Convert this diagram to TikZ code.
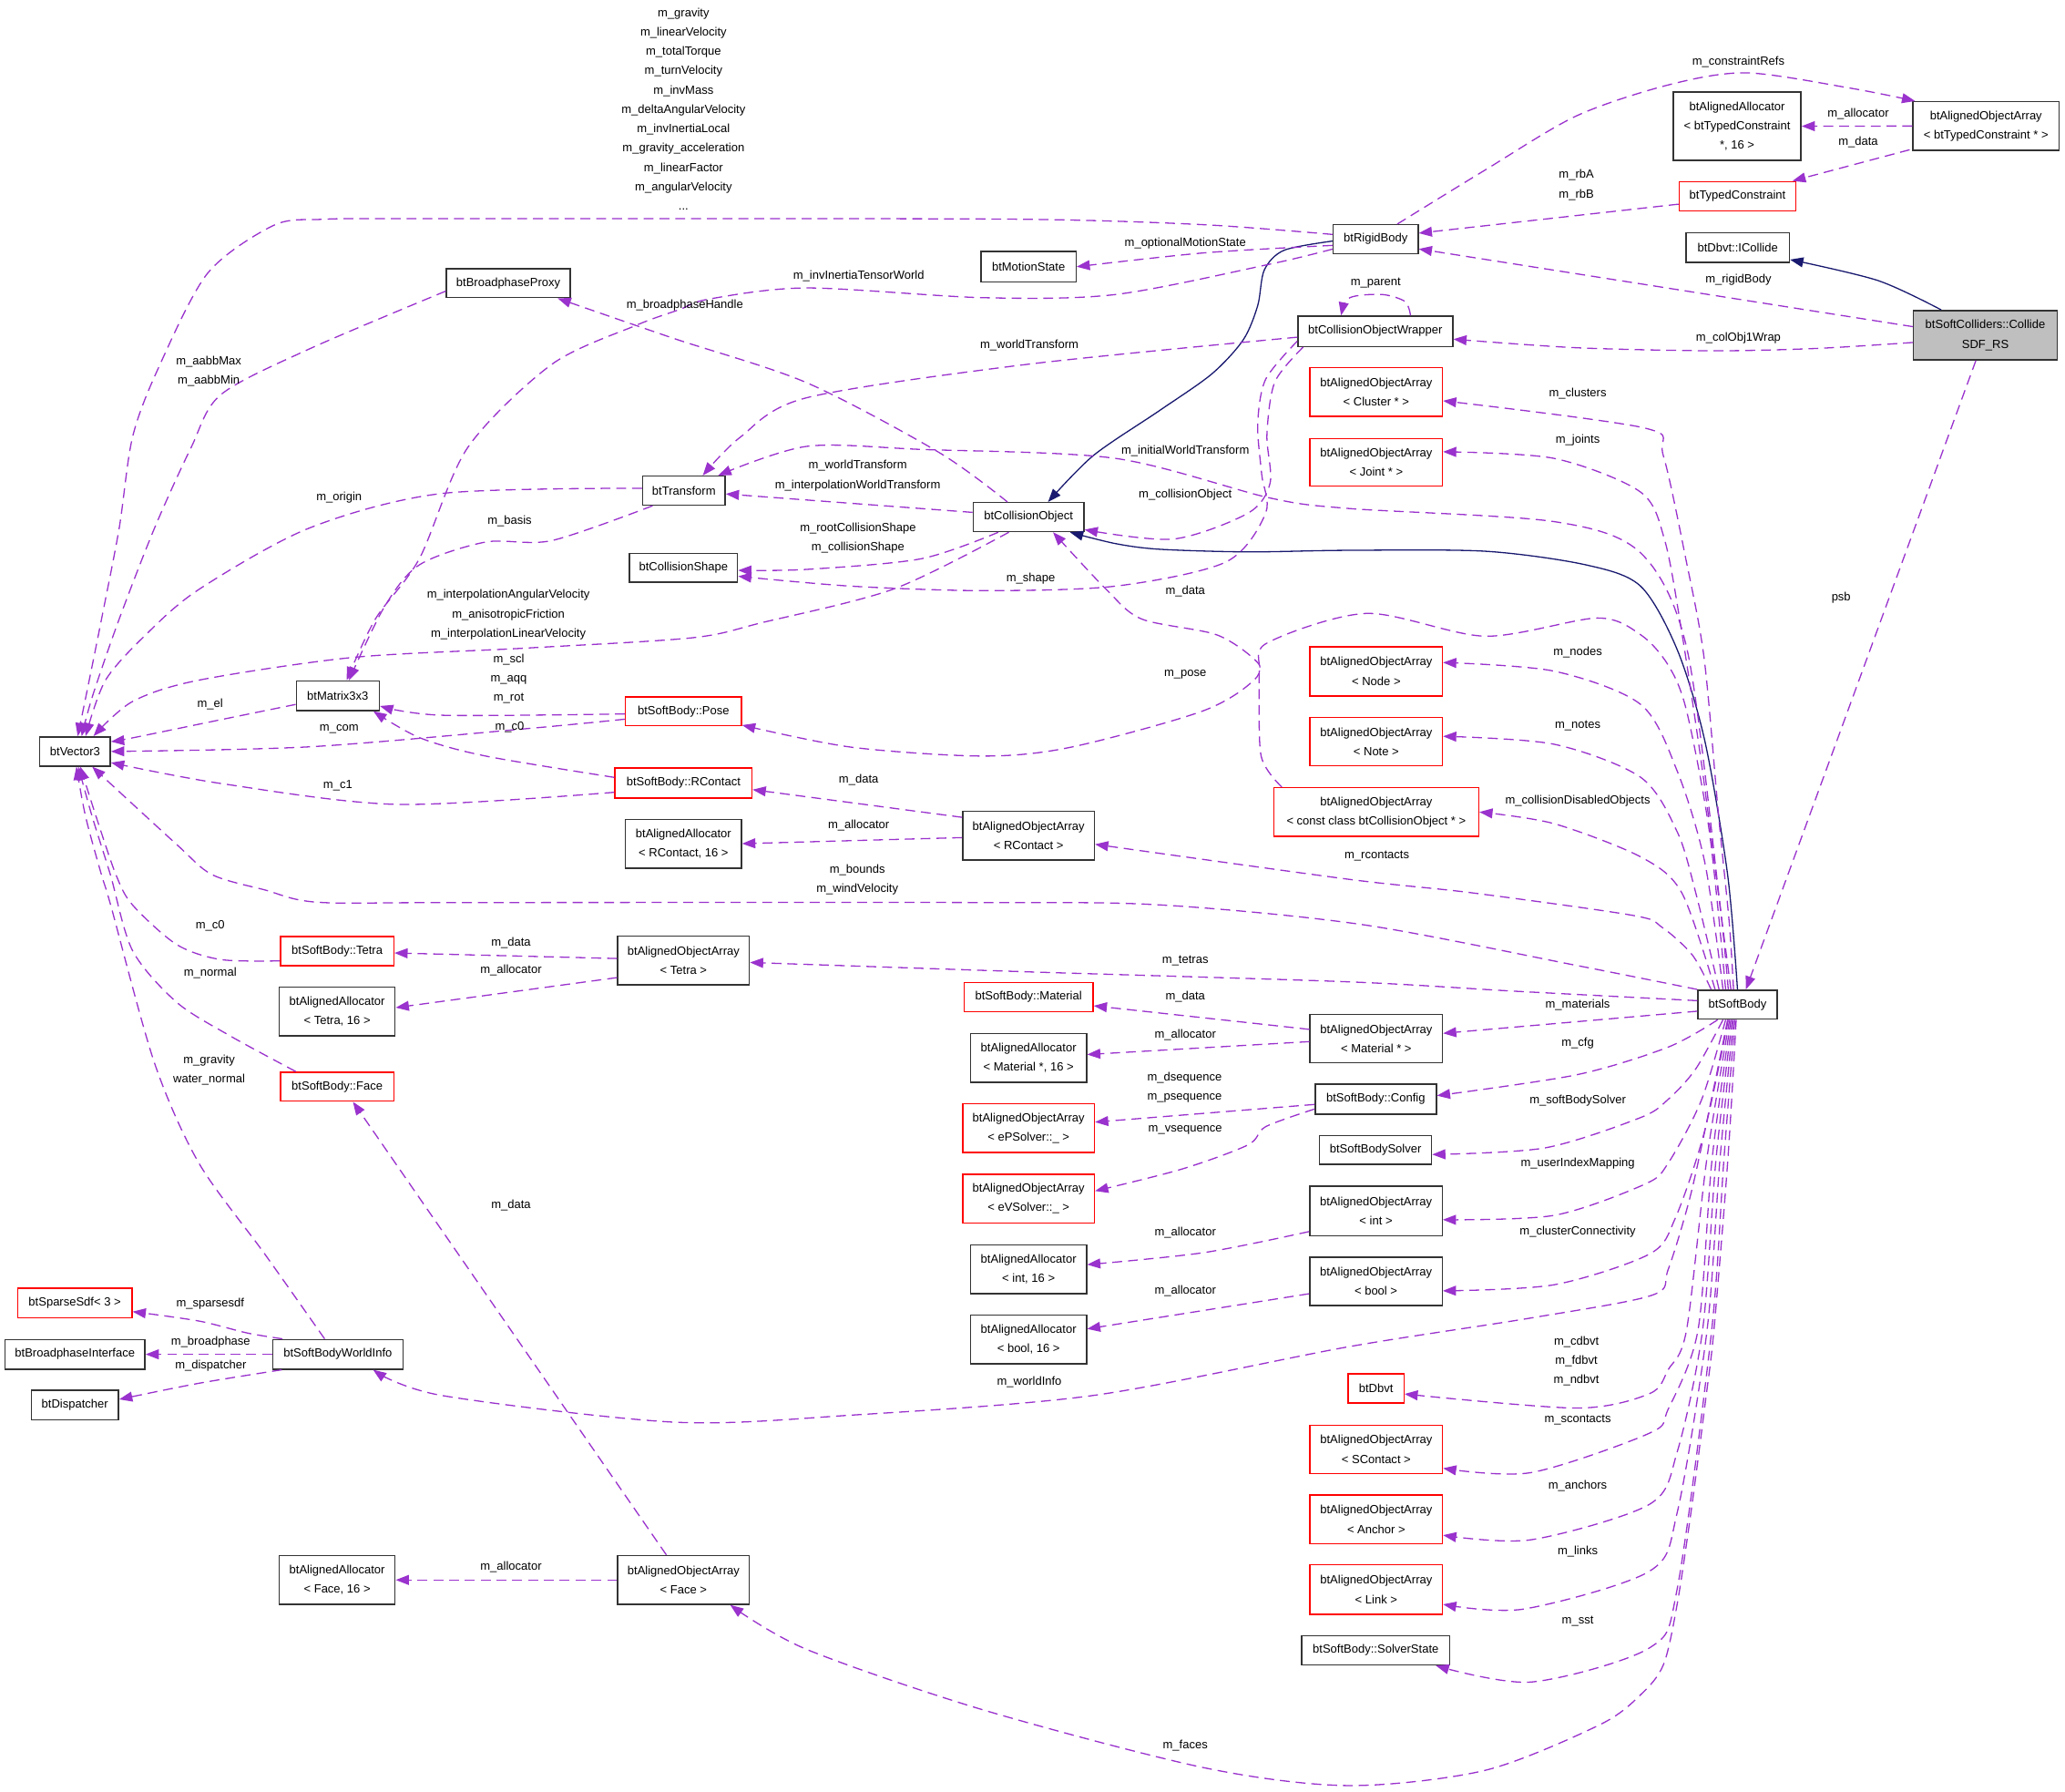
\documentclass[tikz,border=0pt]{standalone}
\usepackage{fontspec}
\setmainfont{Liberation Sans}
\usetikzlibrary{arrows.meta,calc}
\definecolor{depc}{HTML}{9A32CD}
\definecolor{inhc}{HTML}{191970}
\definecolor{rootfill}{HTML}{BFBFBF}
\definecolor{undoc}{HTML}{FF0000}
\definecolor{boxc}{HTML}{333333}
\newcommand{\dgfont}{\fontsize{9}{14.7}\selectfont}
\newcommand{\bx}[6]{\node[#1,minimum width=#4pt,minimum height=#5pt] (#2) at (#3) {#6};}
\begin{document}
\begin{tikzpicture}[x=1pt,y=-1pt,
  box/.style={draw=boxc, line width=1pt, fill=white, inner sep=0pt, align=center, font=\dgfont, text=black},
  rbox/.style={box, draw=undoc},
  gbox/.style={box, fill=rootfill},
  lbl/.style={inner sep=0pt, align=center, font=\dgfont, text=black},
  dep/.style={draw=depc, line width=0.9pt, dash pattern=on 7.5pt off 4.5pt, -{Triangle[length=10pt,width=7.5pt]}},
  inh/.style={draw=inhc, line width=0.9pt, -{Triangle[length=10pt,width=7.5pt]}}]
\fill[white] (0,0) rectangle (1568,1360);
\useasboundingbox (0,0) rectangle (1568,1360);

% ---------- nodes ----------
\bx{gbox}{col}{1507.5,254.5}{109}{37.5}{btSoftColliders::Collide\\SDF\_RS}
\bx{box}{icol}{1319.5,188}{78.5}{22.2}{btDbvt::ICollide}
\bx{box}{aoatc}{1508,95.7}{111}{37}{btAlignedObjectArray\\< btTypedConstraint * >}
\bx{box}{aatc}{1319,95.8}{97}{52}{btAlignedAllocator\\< btTypedConstraint\\*, 16 >}
\bx{rbox}{tc}{1319.3,149}{88.5}{22.3}{btTypedConstraint}
\bx{box}{rb}{1044.6,181.6}{64.4}{22}{btRigidBody}
\bx{box}{ms}{781,202.5}{72}{23}{btMotionState}
\bx{box}{bpp}{386,215}{94}{22}{btBroadphaseProxy}
\bx{box}{cow}{1044.3,251.5}{117.5}{23}{btCollisionObjectWrapper}
\bx{rbox}{aoacl}{1045,297.5}{100.5}{37}{btAlignedObjectArray\\< Cluster * >}
\bx{rbox}{aoaj}{1045,351}{100.5}{36}{btAlignedObjectArray\\< Joint * >}
\bx{box}{tr}{519.3,372.5}{62.6}{22}{btTransform}
\bx{box}{co}{781,392.6}{84}{22}{btCollisionObject}
\bx{box}{cs}{519,431}{82}{22}{btCollisionShape}
\bx{box}{m33}{256.5,528.2}{63}{22.5}{btMatrix3x3}
\bx{box}{v3}{57,570.5}{53.6}{22.2}{btVector3}
\bx{rbox}{pose}{519,540}{88}{22}{btSoftBody::Pose}
\bx{rbox}{rc}{519,594.5}{104}{23}{btSoftBody::RContact}
\bx{box}{aarc}{519,640.5}{88}{37}{btAlignedAllocator\\< RContact, 16 >}
\bx{box}{aoarc}{781,634.5}{100}{37}{btAlignedObjectArray\\< RContact >}
\bx{rbox}{aoan}{1045,509.7}{100.5}{37.4}{btAlignedObjectArray\\< Node >}
\bx{rbox}{aoanote}{1045,563}{100.5}{37}{btAlignedObjectArray\\< Note >}
\bx{rbox}{aoaco}{1045,616.5}{155.6}{37}{btAlignedObjectArray\\< const class btCollisionObject * >}
\bx{rbox}{tet}{256,722}{86}{22}{btSoftBody::Tetra}
\bx{box}{aatet}{256,768}{88}{37}{btAlignedAllocator\\< Tetra, 16 >}
\bx{box}{aoatet}{519,729.3}{100}{37}{btAlignedObjectArray\\< Tetra >}
\bx{rbox}{face}{256,825}{86}{22}{btSoftBody::Face}
\bx{rbox}{mat}{781,757}{98}{22.4}{btSoftBody::Material}
\bx{box}{aamat}{781,803.1}{88}{37}{btAlignedAllocator\\< Material *, 16 >}
\bx{box}{aoamat}{1045,788.5}{100.5}{37}{btAlignedObjectArray\\< Material * >}
\bx{box}{cfg}{1044.6,834.5}{92}{23}{btSoftBody::Config}
\bx{box}{sbs}{1044.5,873}{85}{22}{btSoftBodySolver}
\bx{rbox}{aoaps}{781,856.5}{100}{37}{btAlignedObjectArray\\< ePSolver::\_ >}
\bx{rbox}{aoavs}{781,910}{100}{36.9}{btAlignedObjectArray\\< eVSolver::\_ >}
\bx{box}{aoaint}{1044.8,919.3}{100.5}{37.5}{btAlignedObjectArray\\< int >}
\bx{box}{aaint}{781,963.6}{88}{37.2}{btAlignedAllocator\\< int, 16 >}
\bx{box}{aoabool}{1044.8,972.8}{100.5}{36.5}{btAlignedObjectArray\\< bool >}
\bx{box}{aabool}{781,1016.9}{88}{37.1}{btAlignedAllocator\\< bool, 16 >}
\bx{box}{sb}{1319.3,762.7}{60}{22}{btSoftBody}
\bx{rbox}{dbvt}{1044.8,1054}{42.4}{22}{btDbvt}
\bx{rbox}{aoasc}{1045,1100.3}{100.5}{36.6}{btAlignedObjectArray\\< SContact >}
\bx{rbox}{aoaanc}{1045,1153.5}{100.5}{37}{btAlignedObjectArray\\< Anchor >}
\bx{rbox}{aoalink}{1045,1206.8}{100.5}{37.6}{btAlignedObjectArray\\< Link >}
\bx{box}{sst}{1044.6,1253}{112.3}{22}{btSoftBody::SolverState}
\bx{rbox}{sdf}{56.8,989.3}{86.8}{22.6}{btSparseSdf< 3 >}
\bx{box}{bpi}{56.9,1028.2}{106.3}{22.5}{btBroadphaseInterface}
\bx{box}{wi}{256.5,1028.2}{99}{22.5}{btSoftBodyWorldInfo}
\bx{box}{disp}{56.9,1066.8}{66.2}{22.4}{btDispatcher}
\bx{box}{aaface}{256,1199.5}{88}{37}{btAlignedAllocator\\< Face, 16 >}
\bx{box}{aoaface}{519,1199.5}{100}{37}{btAlignedObjectArray\\< Face >}

% ---------- inheritance ----------
\draw[inh] plot[smooth] coordinates {($(col.north)+(-33.5,0)$) (1426,213) ($(icol.south east)+(0,-2.5)$)};
\draw[inh] plot[smooth] coordinates {($(rb.west)+(0,1.4)$) (975,190) (960,205) (955,232) (944,258) (920,284) (880,312) (830,346) ($(co.north)+(14.8,0)$)};
\draw[inh] plot[smooth] coordinates {(sb.north) (1311.8,664) (1294.5,562.5) (1273.6,493.4) (1245.7,445) (1204,428.8) (1127.8,418.5) (1023.7,417.8) (947.6,419) (880.6,417) (847,412.7) ($(co.south east)+(-11,0)$)};

% ---------- usage edges ----------
\draw[dep] ($(col.west)+(0,-6.5)$) -- ($(rb.east)+(0,7.4)$);
\draw[dep] plot[smooth] coordinates {($(col.west)+(0,5.5)$) (1380,264.5) (1301,266.3) (1197,264) ($(cow.east)+(0,6)$)};
\draw[dep] ($(col.south)+(-7.2,0)$) -- ($(sb.north)+(6.4,0)$);
\draw[dep] plot[smooth] coordinates {($(rb.north)+(16.4,0)$) (1127.8,129) (1197,88) (1266.7,64.5) (1326,55.3) (1405.5,67) ($(aoatc.north west)+(2.2,0)$)};
\draw[dep] (aoatc.west) -- (aatc.east);
\draw[dep] ($(aoatc.south west)+(-2,-1)$) -- ($(tc.north east)+(-3,0)$);
\draw[dep] ($(tc.west)+(0,6)$) -- ($(rb.east)+(0,-4.6)$);
\draw[dep] plot[smooth] coordinates {($(rb.west)+(0,-3.6)$) (914,170.6) (780,166.5) (525,166) (300,166) (245,166.5) (208,171) (157.6,207.5) (120,280) (100.6,332) (90.5,401) (77.1,470) (65.4,528) ($(v3.north)+(2,0)$)};
\draw[dep] plot[smooth] coordinates {($(rb.west)+(0,4.7)$) (914,192) (ms.east)};
\draw[dep] plot[smooth] coordinates {($(rb.west)+(0,7.5)$) (964,200.6) (847,223.6) (746.5,226) (612.4,218.6) (538.6,227) (516,235) (483,247) (419,276.6) (355,340) (318.5,424) (285,470) ($(m33.north)+(6.7,0)$)};
\draw[dep] plot[smooth] coordinates {($(co.north)+(-16,0)$) (713,343.5) (612.4,290.5) (511.8,257) ($(bpp.south east)+(-10,0)$)};
\draw[dep] plot[smooth] coordinates {($(cow.north)+(26.7,0)$) (1067,229) (1049.6,223.6) (1025,226) ($(cow.north)+(-26,0)$)};
\draw[dep] plot[smooth] coordinates {($(cow.west)+(0,4.5)$) (780,276.6) (612.4,302) (562,332) ($(tr.north)+(14.3,0)$)};
\draw[dep] plot[smooth] coordinates {($(sb.north)+(-7,0)$) (1305,678) (1281,493) (1246,420) (1180,396) (1023.6,386) (964,378) (847,348) (699.5,341.2) (612.4,338.9) ($(tr.north)+(26,0)$)};
\draw[dep] ($(co.west)+(0,-3.6)$) -- ($(tr.east)+(0,2.5)$);
\draw[dep] plot[smooth] coordinates {($(co.south)+(-23,0)$) (699.5,424.2) (612.4,432.3) ($(cs.east)+(0,2)$)};
\draw[dep] plot[smooth] coordinates {($(cow.west)+(0,7.5)$) (961,288) (955,322) (958,360) (961,389.6) (931,426.6) (847,445) (746,448.4) (646,445) ($(cs.east)+(0,6.5)$)};
\draw[dep] plot[smooth] coordinates {($(cow.south west)+(4.5,0)$) (968,290) (962,330) (964.4,366.7) (947.6,389.6) (890.6,409.3) ($(co.south east)+(0,-2)$)};
\draw[dep] plot[smooth] coordinates {($(co.south)+(-15,0)$) (679,447) (579,472.6) (525.6,484.2) (400,492) (268.2,499.1) (150.9,516.4) (100.6,532.6) ($(v3.north)+(14,0)$)};
\draw[dep] plot[smooth] coordinates {($(tr.west)+(0,-1.8)$) (335,374.7) (234.6,401) (151,447.5) (110.6,482) (80,516.6) ($(v3.north)+(8,0)$)};
\draw[dep] plot[smooth] coordinates {($(tr.south west)+(8,0)$) (419,410.4) (368.8,411.5) (318.5,428.8) (291.7,461) ($(m33.north)+(8.5,0)$)};
\draw[dep] plot[smooth] coordinates {($(bpp.west)+(0,6)$) (234.7,265) (167.6,299.7) (145,340) (117.3,401) (90.5,470) (70.4,528) ($(v3.north)+(5,0)$)};
\draw[dep] plot[smooth] coordinates {($(m33.west)+(0,6.6)$) (167.6,546.4) (100.6,560.2) ($(v3.east)+(0,-7.5)$)};
\draw[dep] plot[smooth] coordinates {($(pose.west)+(0,2)$) (335.4,543) ($(m33.east)+(0,7.8)$)};
\draw[dep] plot[smooth] coordinates {($(pose.west)+(0,6)$) (402,553) (234.6,567) (v3.east)};
\draw[dep] plot[smooth] coordinates {($(rc.west)+(0,-4.3)$) (368.8,574) (318.5,560) ($(m33.south east)+(-5,0)$)};
\draw[dep] plot[smooth] coordinates {($(rc.west)+(0,7)$) (301.7,610.7) (167.6,594.8) ($(v3.east)+(0,8.5)$)};
\draw[dep] ($(aoarc.west)+(0,-14)$) -- ($(rc.east)+(0,5)$);
\draw[dep] ($(aoarc.west)+(0,1.4)$) -- (aarc.east);
\draw[dep] plot[smooth] coordinates {($(sb.north)+(-20,0)$) (1285,725) (1262,704) (1240,695) (1117.4,677.8) (1023.7,667.5) ($(aoarc.east)+(0,6.5)$)};
\draw[dep] plot[smooth] coordinates {(sb.north west) (1197.3,733) (1034.7,702) (880.7,687) (740,685.2) (350,685.2) (241.5,685) (201,675.6) (161,664) (134,641) ($(v3.south)+(13,0)$)};
\draw[dep] ($(aoatet.west)+(0,-1.6)$) -- ($(tet.east)+(0,1.5)$);
\draw[dep] ($(aoatet.west)+(0,12.9)$) -- ($(aatet.east)+(0,-3)$);
\draw[dep] plot[smooth] coordinates {($(sb.west)+(0,-3)$) (1150,752.5) (1023.7,745.4) (780,737.8) ($(aoatet.east)+(0,1.4)$)};
\draw[dep] plot[smooth] coordinates {($(tet.west)+(0,7.5)$) (167.6,728.5) (134,717) (100.6,687) (88,664) (73,620) ($(v3.south)+(4,0)$)};
\draw[dep] plot[smooth] coordinates {($(face.north)+(-31.4,0)$) (174.3,786.2) (134,760.8) (100.6,721.6) (83.8,664) (70,620) ($(v3.south)+(2.5,0)$)};
\draw[dep] plot[smooth] coordinates {($(wi.north)+(-10,0)$) (201,952) (151,883) (117.3,807) (84,687) (77,664) (65,620) ($(v3.south)+(1,0)$)};
\draw[dep] ($(aoaface.north)+(-13,0)$) -- ($(face.south)+(12,0)$);
\draw[dep] (aoaface.west) -- (aaface.east);
\draw[dep] plot[smooth] coordinates {($(sb.south)+(-1,0)$) (1312,880) (1301.4,1009.8) (1294.5,1067.5) (1284,1148) (1273.6,1217.3) (1263.2,1263.5) (1245.9,1286.5) (1214.6,1309.5) (1127.8,1344) (1023.7,1355.6) (914,1342) (746,1298) (612,1252) ($(aoaface.south east)+(-15,0)$)};
\draw[dep] plot[smooth] coordinates {($(sb.south)+(-7.5,0)$) (1301.4,825.4) (1284,906) (1266.7,963.7) (1254.5,983.3) (1162.5,1000.6) (1023.7,1022.5) (830.3,1059.4) (646,1074.4) (511.8,1079.7) (335.2,1059.4) ($(wi.south)+(26.8,0)$)};
\draw[dep] plot[smooth] coordinates {($(wi.north)+(-42,0)$) (187.7,1012) (150.9,1002.9) ($(sdf.east)+(0,6.5)$)};
\draw[dep] (wi.west) -- (bpi.east);
\draw[dep] plot[smooth] coordinates {($(wi.south west)+(7.5,0)$) (150.9,1050.2) ($(disp.east)+(0,-4.4)$)};
\draw[dep] ($(aoamat.west)+(0,-7)$) -- ($(mat.east)+(0,6.6)$);
\draw[dep] ($(aoamat.west)+(0,2.3)$) -- ($(aamat.east)+(0,-2.5)$);
\draw[dep] ($(sb.west)+(0,5)$) -- ($(aoamat.east)+(0,-4)$);
\draw[dep] ($(cfg.west)+(0,4)$) -- ($(aoaps.east)+(0,-4.6)$);
\draw[dep] plot[smooth] coordinates {($(cfg.west)+(0,7.5)$) (961,855.4) (947.6,869.2) (897.3,887.6) ($(aoavs.east)+(0,-5.8)$)};
\draw[dep] plot[smooth] coordinates {($(sb.south)+(-15,0)$) (1266.6,795) (1197,816) ($(cfg.east)+(0,-2.7)$)};
\draw[dep] plot[smooth] coordinates {($(sb.south)+(-11,0)$) (1287.6,811.5) (1266.7,834.6) (1245.6,848.5) (1173,871.5) ($(sbs.east)+(0,3.5)$)};
\draw[dep] plot[smooth] coordinates {($(sb.south)+(-9,0)$) (1292,835) (1266.7,883) (1249,899) (1180,922.7) ($(aoaint.east)+(0,6.7)$)};
\draw[dep] plot[smooth] coordinates {($(sb.south)+(-7,0)$) (1294,860) (1272,925) (1252.6,952) (1180,975.4) ($(aoabool.east)+(0,7.2)$)};
\draw[dep] plot[smooth] coordinates {($(aoaint.west)+(0,15.7)$) (914,951) ($(aaint.east)+(0,-3.5)$)};
\draw[dep] ($(aoabool.west)+(0,9.4)$) -- ($(aabool.east)+(0,-8)$);
\draw[dep] plot[smooth] coordinates {($(sb.south)+(-6,0)$) (1296,880) (1280.6,1009.8) (1266.7,1039.8) (1252.6,1058) (1197,1069) ($(dbvt.east)+(0,4.3)$)};
\draw[dep] plot[smooth] coordinates {($(sb.south)+(-5,0)$) (1300,880) (1289.3,1009.8) (1266.7,1069.8) (1252.6,1088) (1162.5,1118) ($(aoasc.east)+(0,14.4)$)};
\draw[dep] plot[smooth] coordinates {($(sb.south)+(-4,0)$) (1303,880) (1292.8,1009.8) (1273.6,1102) (1252.6,1142) (1162.5,1169) ($(aoaanc.east)+(0,12)$)};
\draw[dep] plot[smooth] coordinates {($(sb.south)+(-3,0)$) (1306,880) (1296.2,1009.8) (1273.6,1148) (1252.6,1192.8) (1157,1221.6) ($(aoalink.east)+(0,11.2)$)};
\draw[dep] plot[smooth] coordinates {($(sb.south)+(-2,0)$) (1309,880) (1299.7,1009.8) (1273.6,1205.8) (1252.6,1251) (1162.5,1277) ($(sst.south east)+(-11,0)$)};
\draw[dep] plot[smooth] coordinates {($(sb.north)+(-3,0)$) (1313,700) (1305,620) (1294,500) (1280,424) (1263,346) (1249,325) ($(aoacl.east)+(0,6.8)$)};
\draw[dep] plot[smooth] coordinates {($(sb.north)+(-5,0)$) (1305,680) (1292,580) (1277,480) (1264,410) (1245.6,373.5) (1180,348) ($(aoaj.east)+(0,-8)$)};
\draw[dep] plot[smooth] coordinates {($(sb.north)+(-9,0)$) (1298,631.7) (1280.6,539.5) (1266.7,505) (1245.9,482) (1212.9,469.2) (1127.8,483) (1037.5,465.7) (961,488.8) (954.3,514.1) (914,539.5) (813.5,567.2) (746.5,574) (646,567.2) ($(pose.south east)+(0,-1)$)};
\draw[dep] plot[smooth] coordinates {($(sb.north)+(-11,0)$) (1294.5,654.8) (1273.6,585.6) (1245.9,534.9) (1179.9,509.5) ($(aoan.east)+(0,-6.7)$)};
\draw[dep] plot[smooth] coordinates {($(sb.north)+(-14,0)$) (1287.6,677.8) (1273.6,631.7) (1245.9,590.2) (1179.9,565) ($(aoanote.east)+(0,-4)$)};
\draw[dep] plot[smooth] coordinates {($(sb.north)+(-17,0)$) (1277,677.8) (1245.9,650.6) (1179.9,625.3) (aoaco.east)};
\draw[dep] plot[smooth] coordinates {($(aoaco.north west)+(6.6,0)$) (957.6,574) (956,516.6) (954.5,502.6) (924,482) (867,470) (840,447.5) ($(co.south)+(18.6,0)$)};

% ---------- labels ----------
\node[lbl] (L1) at (519,82.7) {m\_gravity\\m\_linearVelocity\\m\_totalTorque\\m\_turnVelocity\\m\_invMass\\m\_deltaAngularVelocity\\m\_invInertiaLocal\\m\_gravity\_acceleration\\m\_linearFactor\\m\_angularVelocity\\...};
\node[lbl] (L2) at (1320,47) {m\_constraintRefs};
\node[lbl] (L3) at (1411,86.5) {m\_allocator};
\node[lbl] (L4) at (1411,108) {m\_data};
\node[lbl] (L5) at (1197,140.5) {m\_rbA\\m\_rbB};
\node[lbl] (L6) at (1320,212.6) {m\_rigidBody};
\node[lbl] (L7) at (900,184.5) {m\_optionalMotionState};
\node[lbl] (L8) at (652,209.8) {m\_invInertiaTensorWorld};
\node[lbl] (L9) at (520,232) {m\_broadphaseHandle};
\node[lbl] (L10) at (1044.6,215) {m\_parent};
\node[lbl] (L11) at (1320,256.4) {m\_colObj1Wrap};
\node[lbl] (L12) at (781.6,262) {m\_worldTransform};
\node[lbl] (L13) at (158.5,282) {m\_aabbMax\\m\_aabbMin};
\node[lbl] (L14) at (1198,299) {m\_clusters};
\node[lbl] (L15) at (1198,334.4) {m\_joints};
\node[lbl] (L16) at (900,342.4) {m\_initialWorldTransform};
\node[lbl] (L17) at (651.3,361.2) {m\_worldTransform\\m\_interpolationWorldTransform};
\node[lbl] (L18) at (900,375.6) {m\_collisionObject};
\node[lbl] (L19) at (257.5,378) {m\_origin};
\node[lbl] (L20) at (387,395.4) {m\_basis};
\node[lbl] (L21) at (651.5,408.4) {m\_rootCollisionShape\\m\_collisionShape};
\node[lbl] (L22) at (782.7,439) {m\_shape};
\node[lbl] (L23) at (900,449) {m\_data};
\node[lbl] (L24) at (386,466.7) {m\_interpolationAngularVelocity\\m\_anisotropicFriction\\m\_interpolationLinearVelocity};
\node[lbl] (L25) at (1398,454) {psb};
\node[lbl] (L26) at (1198,495) {m\_nodes};
\node[lbl] (L27) at (900,511.8) {m\_pose};
\node[lbl] (L28) at (386.3,515.3) {m\_scl\\m\_aqq\\m\_rot};
\node[lbl] (L29) at (159.6,534.4) {m\_el};
\node[lbl] (L30) at (1198,551) {m\_notes};
\node[lbl] (L31) at (257.5,553.3) {m\_com};
\node[lbl] (L32) at (387,552) {m\_c0};
\node[lbl] (L33) at (652,592) {m\_data};
\node[lbl] (L34) at (256.5,596.7) {m\_c1};
\node[lbl] (L35) at (1198,608) {m\_collisionDisabledObjects};
\node[lbl] (L36) at (652,627) {m\_allocator};
\node[lbl] (L37) at (1045.5,650) {m\_rcontacts};
\node[lbl] (L38) at (651,668) {m\_bounds\\m\_windVelocity};
\node[lbl] (L39) at (159.6,703) {m\_c0};
\node[lbl] (L40) at (388,716) {m\_data};
\node[lbl] (L41) at (900,729.7) {m\_tetras};
\node[lbl] (L42) at (388,736.6) {m\_allocator};
\node[lbl] (L43) at (159.6,739) {m\_normal};
\node[lbl] (L44) at (900,757) {m\_data};
\node[lbl] (L45) at (1198,762.7) {m\_materials};
\node[lbl] (L46) at (900,785.5) {m\_allocator};
\node[lbl] (L47) at (1198,792) {m\_cfg};
\node[lbl] (L48) at (158.8,812.3) {m\_gravity\\water\_normal};
\node[lbl] (L49) at (899.5,825.7) {m\_dsequence\\m\_psequence};
\node[lbl] (L50) at (1198,835.3) {m\_softBodySolver};
\node[lbl] (L51) at (900,858) {m\_vsequence};
\node[lbl] (L52) at (1198,883) {m\_userIndexMapping};
\node[lbl] (L53) at (388,915) {m\_data};
\node[lbl] (L54) at (900,935.6) {m\_allocator};
\node[lbl] (L55) at (1198,935) {m\_clusterConnectivity};
\node[lbl] (L56) at (900,980) {m\_allocator};
\node[lbl] (L57) at (159.6,989.6) {m\_sparsesdf};
\node[lbl] (L58) at (1197,1033.3) {m\_cdbvt\\m\_fdbvt\\m\_ndbvt};
\node[lbl] (L59) at (160,1018.6) {m\_broadphase};
\node[lbl] (L60) at (160,1037) {m\_dispatcher};
\node[lbl] (L61) at (781.6,1049) {m\_worldInfo};
\node[lbl] (L62) at (1198,1078) {m\_scontacts};
\node[lbl] (L63) at (1198,1128) {m\_anchors};
\node[lbl] (L64) at (1198,1178) {m\_links};
\node[lbl] (L65) at (388,1190) {m\_allocator};
\node[lbl] (L66) at (1198,1230.6) {m\_sst};
\node[lbl] (L67) at (900,1325) {m\_faces};
\end{tikzpicture}
\end{document}
